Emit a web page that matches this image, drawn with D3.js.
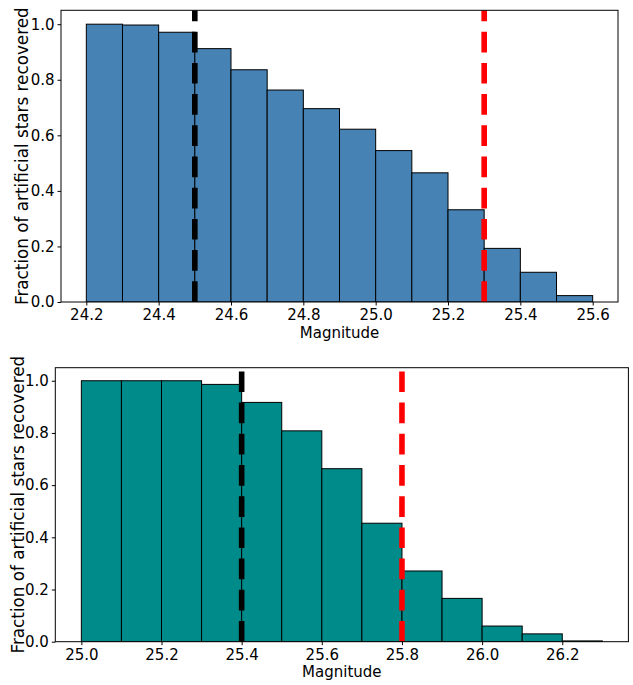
<!DOCTYPE html>
<html>
<head>
<meta charset="utf-8">
<script src="https://cdn.jsdelivr.net/npm/d3@7"></script>
<style>
  html, body { margin: 0; padding: 0; background: #fff; }
  svg { display: block; }
  text { font-family: "DejaVu Sans", sans-serif; fill: #000; }
</style>
</head>
<body>
<svg id="chart" width="633" height="685"></svg>
<script>
// ---------- data ----------
const topBinEdges = [24.2, 24.3, 24.4, 24.5, 24.6, 24.7, 24.8, 24.9, 25.0, 25.1, 25.2, 25.3, 25.4, 25.5, 25.6];
const topFractions = [1.0, 0.997, 0.971, 0.912, 0.836, 0.763, 0.696, 0.622, 0.545, 0.465, 0.332, 0.193, 0.107, 0.023];
const topLimits = [24.5, 25.3];
const topXTicks = [24.2, 24.4, 24.6, 24.8, 25.0, 25.2, 25.4, 25.6];

const bottomBinEdges = [25.0, 25.1, 25.2, 25.3, 25.4, 25.5, 25.6, 25.7, 25.8, 25.9, 26.0, 26.1, 26.2, 26.3];
const bottomFractions = [1.0, 1.0, 1.0, 0.986, 0.917, 0.808, 0.663, 0.454, 0.271, 0.166, 0.060, 0.030, 0.003];
const bottomLimits = [25.4, 25.8];
const bottomXTicks = [25.0, 25.2, 25.4, 25.6, 25.8, 26.0, 26.2];

const yTicks = [0.0, 0.2, 0.4, 0.6, 0.8, 1.0];
const limitColors = ["#000000", "#ff0000"];
const xLabel = "Magnitude";
const yLabel = "Fraction of artificial stars recovered";

// ---------- drawing ----------
const svg = d3.select("#chart");

function drawPanel(cfg) {
  const { edges, values, limits, xTicks, box, fill, ylabelX, ylabelSize } = cfg;
  const margin = 0.05 * (edges[edges.length - 1] - edges[0]);
  const x = d3.scaleLinear()
    .domain([edges[0] - margin, edges[edges.length - 1] + margin])
    .range([box.left, box.right]);
  const y = d3.scaleLinear().domain([0, 1.05]).range([box.bottom, box.top]);

  const g = svg.append("g");
  const clipId = "clip" + Math.round(box.top);
  g.append("clipPath").attr("id", clipId)
    .append("rect")
    .attr("x", box.left).attr("y", box.top)
    .attr("width", box.right - box.left).attr("height", box.bottom - box.top);

  const bins = values.map((v, i) => ({ x0: edges[i], x1: edges[i + 1], v }));

  g.append("g").attr("clip-path", `url(#${clipId})`)
    .selectAll("rect.bar").data(bins).join("rect")
    .attr("class", "bar")
    .attr("x", d => x(d.x0))
    .attr("y", d => y(d.v))
    .attr("width", d => x(d.x1) - x(d.x0))
    .attr("height", d => y(0) - y(d.v))
    .attr("fill", fill)
    .attr("stroke", "#000")
    .attr("stroke-width", 1);

  // vertical dashed limit lines (dash pattern starts at y = 0)
  g.append("g").attr("clip-path", `url(#${clipId})`)
    .selectAll("line.lim").data(limits).join("line")
    .attr("class", "lim")
    .attr("x1", d => x(d)).attr("x2", d => x(d))
    .attr("y1", y(0)).attr("y2", y(1.05))
    .attr("stroke", (d, i) => limitColors[i])
    .attr("stroke-width", 5.6)
    .attr("stroke-dasharray", "20.7,10.5");

  // axes
  const xAxis = d3.axisBottom(x).tickValues(xTicks).tickFormat(d3.format(".1f"))
    .tickSize(3.5).tickPadding(4);
  const gx = g.append("g").attr("transform", `translate(0,${box.bottom})`).call(xAxis);
  gx.select(".domain").remove();
  gx.selectAll("text").attr("font-size", 15).attr("font-family", "DejaVu Sans").attr("fill", "#000");
  gx.selectAll("line").attr("stroke", "#000");

  const yAxis = d3.axisLeft(y).tickValues(yTicks).tickFormat(d3.format(".1f"))
    .tickSize(3.5).tickPadding(3);
  const gy = g.append("g").attr("transform", `translate(${box.left},0)`).call(yAxis);
  gy.select(".domain").remove();
  gy.selectAll("text").attr("font-size", 15).attr("font-family", "DejaVu Sans").attr("fill", "#000");
  gy.selectAll("line").attr("stroke", "#000");

  // frame
  g.append("rect")
    .attr("x", box.left).attr("y", box.top)
    .attr("width", box.right - box.left).attr("height", box.bottom - box.top)
    .attr("fill", "none").attr("stroke", "#000").attr("stroke-width", 1);

  // labels
  g.append("text")
    .attr("x", (box.left + box.right) / 2)
    .attr("y", box.bottom + 35.5)
    .attr("text-anchor", "middle")
    .attr("font-size", 15)
    .text(xLabel);

  g.append("text")
    .attr("transform", `translate(${ylabelX},${(box.top + box.bottom) / 2}) rotate(-90)`)
    .attr("text-anchor", "middle")
    .attr("font-size", ylabelSize)
    .text(yLabel);
}

drawPanel({
  edges: topBinEdges, values: topFractions, limits: topLimits, xTicks: topXTicks,
  box: { left: 61, right: 618, top: 10.3, bottom: 302 },
  fill: "#4682b4", ylabelX: 28, ylabelSize: 16.8
});

drawPanel({
  edges: bottomBinEdges, values: bottomFractions, limits: bottomLimits, xTicks: bottomXTicks,
  box: { left: 55.3, right: 628.4, top: 367.7, bottom: 641.7 },
  fill: "#008b8b", ylabelX: 23.5, ylabelSize: 16.8
});
</script>
</body>
</html>
